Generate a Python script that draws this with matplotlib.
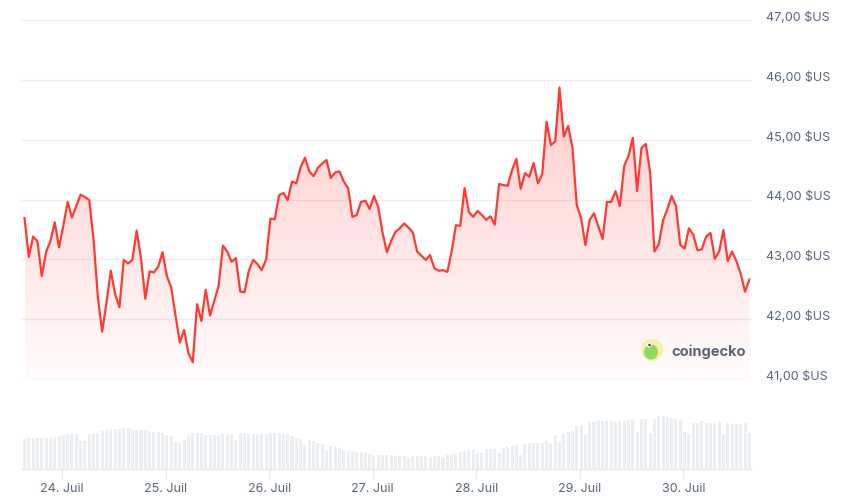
import matplotlib
matplotlib.use('Agg')
import matplotlib.pyplot as plt
import matplotlib.dates as mdates
from matplotlib.patches import Polygon, Circle, Ellipse
from matplotlib.transforms import blended_transform_factory
from matplotlib.ticker import FuncFormatter
import numpy as np
import pandas as pd

start_time = '2024-07-23 15:18'
prices = [
    43.69, 43.04, 43.38, 43.30, 42.72, 43.12, 43.30, 43.62, 43.20, 43.56,
    43.96, 43.70, 43.89, 44.08, 44.04, 43.99, 43.34, 42.37, 41.79, 42.28,
    42.81, 42.42, 42.20, 42.99, 42.93, 42.99, 43.48, 43.02, 42.34, 42.80,
    42.78, 42.88, 43.12, 42.72, 42.53, 42.06, 41.61, 41.82, 41.43, 41.28,
    42.25, 41.97, 42.49, 42.06, 42.31, 42.56, 43.23, 43.13, 42.96, 43.02,
    42.46, 42.45, 42.81, 42.99, 42.92, 42.82, 43.00, 43.68, 43.67, 44.07,
    44.11, 43.99, 44.30, 44.27, 44.54, 44.70, 44.47, 44.39, 44.53, 44.60,
    44.66, 44.36, 44.45, 44.47, 44.30, 44.19, 43.71, 43.74, 43.96, 43.98,
    43.84, 44.06, 43.87, 43.44, 43.12, 43.31, 43.46, 43.52, 43.60, 43.53,
    43.45, 43.13, 43.06, 42.99, 43.07, 42.85, 42.81, 42.82, 42.79, 43.13,
    43.57, 43.56, 44.19, 43.79, 43.71, 43.81, 43.74, 43.66, 43.72, 43.58,
    44.26, 44.24, 44.23, 44.49, 44.68, 44.18, 44.44, 44.38, 44.61, 44.27,
    44.42, 45.30, 44.91, 44.97, 45.87, 45.05, 45.23, 44.87, 43.91, 43.69,
    43.24, 43.66, 43.77, 43.55, 43.34, 43.96, 43.96, 44.14, 43.89, 44.56,
    44.73, 45.03, 44.14, 44.86, 44.93, 44.46, 43.13, 43.25, 43.65, 43.84,
    44.06, 43.89, 43.24, 43.18, 43.52, 43.41, 43.15, 43.17, 43.38, 43.44,
    43.01, 43.13, 43.49, 42.97, 43.13, 42.97, 42.76, 42.46, 42.66,
]
volumes = [
    90, 93, 93, 91, 93, 93, 93, 96, 99, 102, 105, 105, 105, 84, 84, 105, 105, 107, 112, 116,
    120, 120, 120, 123, 123, 117, 117, 117, 117, 114, 111, 111, 108, 102, 99, 81, 78, 87, 102, 106,
    108, 106, 102, 100, 102, 102, 105, 105, 105, 87, 108, 106, 105, 105, 105, 105, 105, 108, 108, 108,
    105, 105, 99, 93, 90, 72, 86, 84, 78, 75, 57, 69, 66, 63, 57, 54, 54, 51, 51, 48,
    45, 42, 42, 42, 42, 42, 39, 39, 39, 33, 39, 39, 39, 39, 36, 39, 39, 33, 42, 42,
    45, 51, 54, 57, 57, 48, 48, 60, 60, 60, 48, 63, 66, 69, 72, 42, 75, 78, 78, 78,
    78, 84, 75, 102, 81, 108, 111, 114, 126, 129, 102, 138, 138, 141, 141, 141, 141, 138, 141, 141,
    144, 144, 111, 147, 147, 108, 147, 156, 156, 153, 150, 147, 144, 111, 105, 135, 135, 141, 135, 135,
    135, 138, 102, 135, 132, 132, 132, 135, 108,
]
price_ticks = [41, 42, 43, 44, 45, 46, 47]
month_label = 'Juil'

LINE = '#FF3A33'
TXT = '#58667E'
GRID = '#EDEEF1'
VOL = '#ECEFF2'

W, H = 844, 502
fig = plt.figure(figsize=(W / 100, H / 100), dpi=100)

def px_axes(x0, y0, x1, y1):
    return fig.add_axes([x0 / W, 1 - y1 / H, (x1 - x0) / W, (y1 - y0) / H])

times = pd.date_range(start_time, periods=len(prices), freq='h')
tx = mdates.date2num(times.to_pydatetime())
hour = 1 / 24
xlim = (tx[0] - 0.58 * hour, tx[-1] + 0.62 * hour)

ax = px_axes(22, 21, 752, 380)
ax.set_xlim(*xlim)
ax.set_ylim(41, 47)
for s in ax.spines.values():
    s.set_visible(False)
ax.set_xticks([])
ax.set_yticks(price_ticks)
ax.tick_params(axis='y', length=0, labelleft=False)
ax.grid(axis='y', color=GRID, lw=1.0)
ax.set_axisbelow(True)

trans = blended_transform_factory(ax.transAxes, ax.transData)
for v in price_ticks:
    ax.text(1.0 + 14 / 730, v, f"{v:.2f}".replace('.', ',') + " $US",
            transform=trans, ha='left', va='baseline', fontsize=9,
            color=TXT, family=['Inter', 'DejaVu Sans'], clip_on=False)

# gradient fill under line
verts = [(tx[0], 41)] + list(zip(tx, prices)) + [(tx[-1], 41)]
poly = Polygon(verts, closed=True, facecolor='none', edgecolor='none')
ax.add_patch(poly)
n = 256
alpha = np.linspace(0.27, 0.02, n)[:, None]
grad = np.zeros((n, 1, 4))
grad[..., 0] = 1.0
grad[..., 1] = 0.23
grad[..., 2] = 0.2
grad[..., 3] = alpha
im = ax.imshow(grad, extent=[tx[0], tx[-1], 41, 46.2], origin='upper',
               aspect='auto', zorder=1, interpolation='bilinear')
im.set_clip_path(poly)
ax.set_xlim(*xlim)
ax.set_ylim(41, 47)
ax.plot(tx, prices, color=LINE, lw=1.6, zorder=3, solid_joinstyle='round')

# watermark
ax_pix = fig.add_axes([0, 0, 1, 1])
ax_pix.set_xlim(0, W)
ax_pix.set_ylim(H, 0)
ax_pix.axis('off')
ax_pix.add_patch(Circle((652, 351), 11, facecolor='#F6EFA6', edgecolor='none'))
ax_pix.add_patch(Ellipse((651, 353), 14, 15, facecolor='#8BDB63', edgecolor='none'))
ax_pix.add_patch(Circle((649, 346), 2.6, facecolor='white', edgecolor='none'))
ax_pix.add_patch(Circle((649.5, 346), 1.3, facecolor='#444444', edgecolor='none'))
ax_pix.text(671, 352, 'coingecko', ha='left', va='center', fontsize=10.5,
            fontweight='bold', color='#5B6474', family=['Inter', 'DejaVu Sans'])

# volume
axv = px_axes(22, 414, 752, 470)
axv.bar(tx, volumes, width=0.7 * hour, color=VOL, zorder=2)
axv.set_xlim(*xlim)
axv.set_ylim(0, 166)
axv.set_yticks([])
for k in ['top', 'left', 'right']:
    axv.spines[k].set_visible(False)
axv.spines['bottom'].set_color('#E6E9ED')
axv.xaxis.set_major_locator(mdates.DayLocator())
axv.xaxis.set_major_formatter(FuncFormatter(
    lambda v, p: f"{mdates.num2date(v).day}. {month_label}"))
axv.tick_params(axis='x', length=7.5, width=1, color='#E6E9ED', pad=2,
                labelsize=9, labelcolor=TXT)
for lab in axv.get_xticklabels():
    lab.set_family(['Inter', 'DejaVu Sans'])

fig.savefig('out.png', dpi=100)
